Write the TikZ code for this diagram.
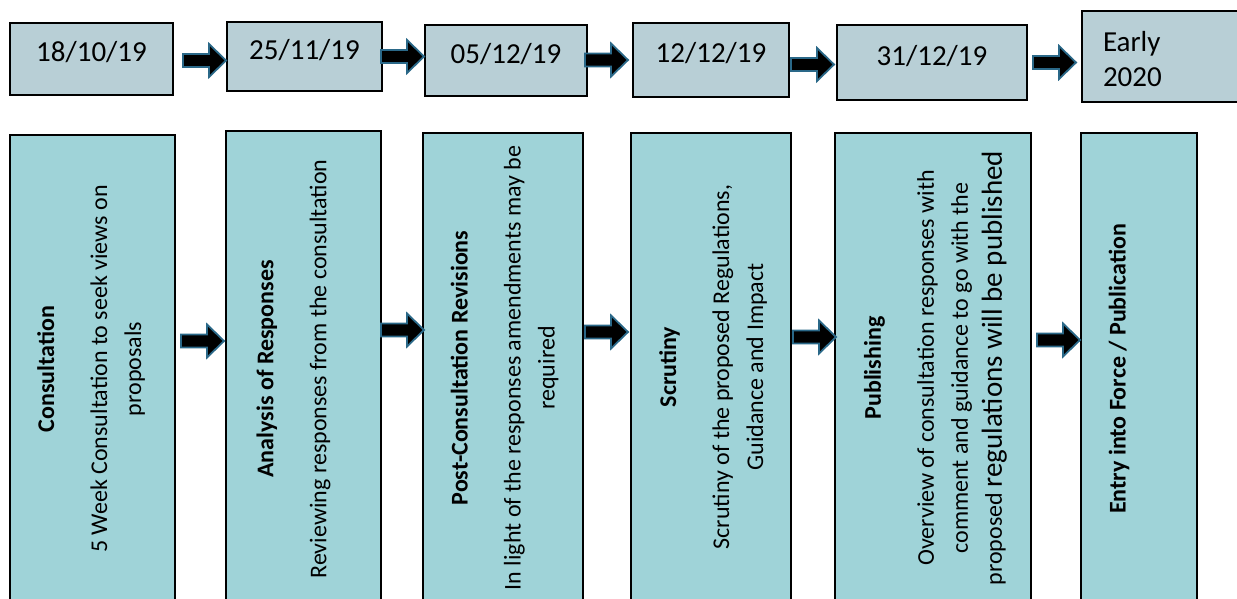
\documentclass[tikz,border=0pt]{standalone}
\usepackage{fontspec}
\setmainfont{Carlito}
\usetikzlibrary{calc}

\definecolor{datefill}{HTML}{B8CFD6}
\definecolor{stagefill}{HTML}{9FD3D8}
\definecolor{arrowrim}{HTML}{2A6888}

\begin{document}
\begin{tikzpicture}[x=1pt,y=-1pt]

% Define block styles
\tikzstyle{datebox} = [rectangle, draw=black, line width=2pt, fill=datefill, inner sep=0pt, font=\fontsize{29}{35}\selectfont]
\tikzstyle{stagebox} = [rectangle, draw=black, line width=2pt, fill=stagefill, inner sep=0pt]
\tikzstyle{stagetext} = [rotate=90, align=center, inner sep=0pt, font=\fontsize{24}{34}\selectfont]
\tikzstyle{bigarrow} = [draw=arrowrim, fill=black, line width=1.8pt, line join=miter,
  to path={let \p1=(\tikztotarget) in (\x1-43pt,\y1+6.5pt) -- (\x1-17pt,\y1+6.5pt) -- (\x1-17pt,\y1+16.5pt) -- (\p1) -- (\x1-17pt,\y1-16.5pt) -- (\x1-17pt,\y1-6.5pt) -- (\x1-43pt,\y1-6.5pt) -- cycle}]

\useasboundingbox (0,0) rectangle (1237,599);

% Define nodes
\node (oct) [datebox, minimum width=163, minimum height=72, text height=20pt, text depth=14pt] at (91.5,59) {18/10/19};
\node (nov) [datebox, minimum width=155, minimum height=69, text height=20pt, text depth=14pt] at (304.5,56.5) {25/11/19};
\node (dec5) [datebox, minimum width=162, minimum height=71, text height=20pt, text depth=14pt] at (506,60.5) {05/12/19};
\node (dec12) [datebox, minimum width=156, minimum height=74, text height=20pt, text depth=14pt] at (711,60) {12/12/19};
\node (dec31) [datebox, minimum width=190, minimum height=75, text height=20pt, text depth=14pt] at (932,62.5) {31/12/19};
\node (early) [datebox, minimum width=158, minimum height=91, text width=116, align=left, text height=22pt, text depth=31pt] at (1161,56.5) {Early\\2020};

\node (consultation) [stagebox, minimum width=165, minimum height=470] at (92.5,370) {};
\node (analysis) [stagebox, minimum width=155, minimum height=474] at (303.5,368) {};
\node (revisions) [stagebox, minimum width=160, minimum height=472] at (503,369) {};
\node (scrutiny) [stagebox, minimum width=160, minimum height=472] at (711,369) {};
\node (publishing) [stagebox, minimum width=196, minimum height=472] at (933,369) {};
\node (entry) [stagebox, minimum width=116, minimum height=472] at (1139,369) {};

\node (consultationtxt) [stagetext] at (91,369) {\textbf{Consultation}\\[19pt]5 Week Consultation to seek views on\\proposals};
\node (analysistxt) [stagetext] at (293.5,369) {\textbf{Analysis of Responses}\\[19pt]Reviewing responses from the consultation};
\node (revisionstxt) [stagetext] at (504.5,368) {\textbf{Post-Consultation Revisions}\\[19pt]In light of the responses amendments may be\\required};
\node (scrutinytxt) [stagetext] at (713,367) {\textbf{Scrutiny}\\[19pt]Scrutiny of the proposed Regulations,\\Guidance and Impact};
\node (publishingtxt) [stagetext] at (935.5,368) {\textbf{Publishing}\\[19pt]Overview of consultation responses with\\comment and guidance to go with the\\proposed {\fontsize{29}{34}\selectfont regulations will be published}};
\node (entrytxt) [stagetext] at (1119,369) {\textbf{Entry into Force / Publication}};

% Draw arrows
\draw [bigarrow] (oct) to ([yshift=-4]nov.west);
\draw [bigarrow] (nov) to ([yshift=4]dec5.west);
\draw [bigarrow] (dec5) to ([xshift=-4]dec12.west);
\draw [bigarrow] (dec12) to ([xshift=-2,yshift=-2]dec31.west);
\draw [bigarrow] (dec31) to ([xshift=-5,yshift=-6]early.west);

\draw [bigarrow] (consultation) to ([xshift=-1,yshift=27]analysis.west);
\draw [bigarrow] (analysis) to ([xshift=2,yshift=39]revisions.west);
\draw [bigarrow] (revisions) to ([xshift=-2,yshift=37]scrutiny.west);
\draw [bigarrow] (scrutiny) to ([xshift=2,yshift=32]publishing.west);
\draw [bigarrow] (publishing) to ([yshift=29]entry.west);

\end{tikzpicture}
\end{document}
